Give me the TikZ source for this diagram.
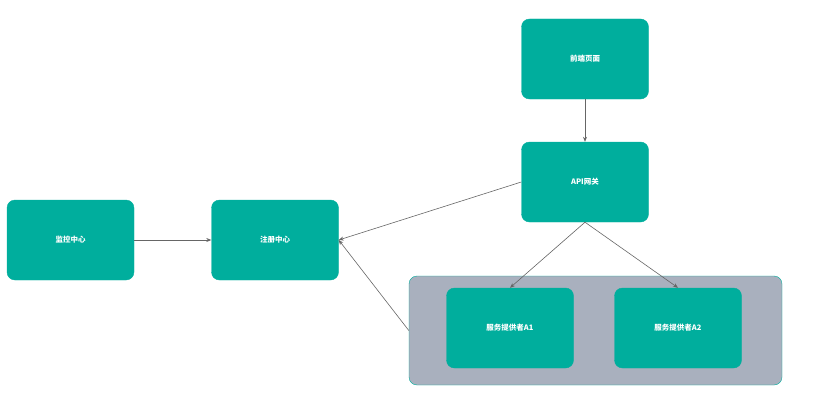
\documentclass[tikz,border=0pt]{standalone}
\usepackage{fontspec}
\newfontfamily\cjk{Noto Sans CJK SC}
\usetikzlibrary{arrows.meta}
\definecolor{teal1}{HTML}{00AE9D}
\definecolor{grayc}{HTML}{A9B0BE}
\definecolor{linec}{HTML}{666666}
\tikzset{
  box/.style={fill=teal1, draw=teal1, rounded corners=8pt, minimum width=127pt, minimum height=80pt, text=white, font=\cjk\fontsize{7.5}{9}\selectfont\bfseries, inner sep=0pt},
  conn/.style={draw=linec, line width=0.6pt, -{Stealth[length=5pt,width=4pt]}}
}
\begin{document}
\begin{tikzpicture}[x=1pt,y=-1pt]
\useasboundingbox (0,0) rectangle (819,404);
\node[fill=grayc, draw=teal1, rounded corners=8pt, minimum width=373pt, minimum height=109pt, inner sep=0pt] (grp) at (595.5,330.5) {};
\node[box] (fe) at (585,59) {前端页面};
\node[box] (api) at (585,182) {API网关};
\node[box] (mon) at (70.5,240) {监控中心};
\node[box] (reg) at (275,240) {注册中心};
\node[box] (a1) at (510,328) {服务提供者A1};
\node[box] (a2) at (678,328) {服务提供者A2};
\draw[conn] (fe) -- (api);
\draw[conn] (mon) -- (reg);
\draw[conn] (api.west) -- (reg.east);
\draw[conn] (api.south) -- (a1.north);
\draw[conn] (api.south) -- (a2.north);
\draw[conn] (grp.west) -- (reg.east);
\end{tikzpicture}
\end{document}
